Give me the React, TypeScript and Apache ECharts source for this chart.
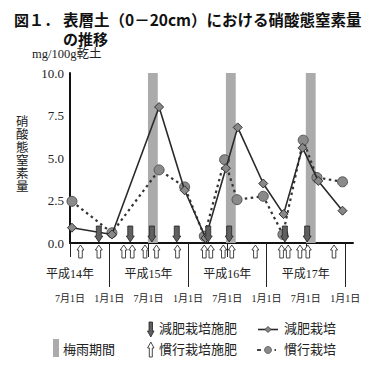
import React, { useEffect, useRef } from "react";
import * as echarts from "echarts";

// months counted from 平成14年7月1日
const genpiMonths = [0.3, 6.4, 13.6, 17.5, 20.7, 23.8, 25.6, 29.5, 32.6, 35.5, 37.9, 41.6];
const genpiValues = [0.9, 0.5, 8.0, 3.1, 0.3, 4.4, 6.8, 3.5, 1.7, 5.6, 3.65, 1.9];
const kankouMonths = [0.3, 6.4, 13.6, 17.5, 20.5, 23.6, 25.5, 29.5, 32.5, 35.6, 37.7, 41.6];
const kankouValues = [2.45, 0.6, 4.3, 3.3, 0.4, 4.9, 2.55, 2.75, 0.5, 6.05, 3.85, 3.6];

const rainyStart = [11.9, 23.8, 36.0];
const rainyEnd = [13.4, 25.3, 37.5];

const genpiFertMonths = [4.4, 9.2, 12.5, 16.3, 21.1, 24.3, 32.8, 36.2];
const kankouFertMonths = [1.6, 4.4, 8.2, 9.5, 11.45, 13.2, 16.4, 20.5, 21.5, 23.4, 24.7, 28.3, 32.3, 33.3, 35.1, 36.3, 40.3];

const dateTickMonths = [0, 6, 12, 18, 24, 30, 36, 42];
const dateLabels = ["7月1日", "1月1日", "7月1日", "1月1日", "7月1日", "1月1日", "7月1日", "1月1日"];
const yearBoundaryMonths = [6, 18, 30, 42];
const yearMidMonths = [0, 12, 24, 36];
const yearLabels = ["平成14年", "平成15年", "平成16年", "平成17年"];

const SERIF = "'Liberation Serif', 'DejaVu Serif', 'Noto Sans CJK JP', serif";
const GOTHIC = "'Noto Sans CJK JP', 'Noto Sans', sans-serif";
const TXT = "#222";

export default function App() {
  const ref = useRef<HTMLDivElement>(null);
  useEffect(() => {
    if (!ref.current) return;
    const chart = echarts.init(ref.current, undefined, { renderer: "svg" });
    const option: any = {
      animation: false,
      backgroundColor: "#fff",
      grid: { left: 70, right: 26, top: 73, bottom: 133 },
      xAxis: [
        {
          type: "value",
          min: 0,
          max: 43.2,
          axisLine: { show: true, onZero: false, lineStyle: { color: "#111", width: 2 } },
          axisTick: { show: true, customValues: yearBoundaryMonths, length: 44, lineStyle: { color: "#222", width: 1 } },
          axisLabel: {
            customValues: dateTickMonths,
            formatter: (v: number) => dateLabels[dateTickMonths.indexOf(v)] ?? "",
            margin: 50,
            fontSize: 10,
            fontFamily: SERIF,
            color: TXT,
          },
          splitLine: { show: false },
        },
        {
          type: "value",
          min: 0,
          max: 43.2,
          position: "bottom",
          axisLine: { show: false },
          axisTick: { show: true, customValues: yearMidMonths, length: 14, lineStyle: { color: "#222", width: 1 } },
          axisLabel: {
            customValues: yearMidMonths,
            formatter: (v: number) => yearLabels[yearMidMonths.indexOf(v)] ?? "",
            margin: 25,
            fontSize: 12,
            fontFamily: SERIF,
            color: TXT,
          },
          splitLine: { show: false },
        },
      ],
      yAxis: {
        type: "value",
        min: 0,
        max: 10,
        interval: 2.5,
        axisLine: { show: true, lineStyle: { color: "#111", width: 2 } },
        axisTick: { show: false },
        splitLine: { show: false },
        axisLabel: {
          formatter: (v: number) => v.toFixed(1),
          fontSize: 13,
          margin: 6,
          fontFamily: SERIF,
          color: TXT,
        },
      },
      series: [
        {
          type: "custom",
          name: "梅雨期間",
          z: 1,
          clip: false,
          data: rainyStart.map((s, i) => [s, rainyEnd[i]]),
          renderItem: (params: any, api: any) => {
            const a = api.coord([api.value(0), 10]);
            const b = api.coord([api.value(1), 0]);
            return {
              type: "rect",
              shape: { x: a[0], y: a[1], width: b[0] - a[0], height: b[1] - a[1] },
              style: { fill: "#ababab" },
            };
          },
        },
        {
          type: "line",
          name: "慣行栽培",
          z: 3,
          data: kankouMonths.map((m, i) => [m, kankouValues[i]]),
          symbol: "circle",
          symbolSize: 10,
          lineStyle: { color: "#333", width: 2.2, type: [2.5, 3.5] },
          itemStyle: { color: "#8a8a8a", borderColor: "#555", borderWidth: 1 },
        },
        {
          type: "line",
          name: "減肥栽培",
          z: 4,
          data: genpiMonths.map((m, i) => [m, genpiValues[i]]),
          symbol: "diamond",
          symbolSize: 9,
          lineStyle: { color: "#2a2a2a", width: 1.6 },
          itemStyle: { color: "#888", borderColor: "#333", borderWidth: 1 },
        },
        {
          type: "custom",
          name: "減肥栽培施肥",
          z: 5,
          clip: false,
          data: genpiFertMonths.map((m) => [m, 0]),
          renderItem: (params: any, api: any) => {
            const p = api.coord([api.value(0), 0]);
            const x = p[0];
            const y = p[1];
            return {
              type: "polygon",
              shape: {
                points: [
                  [x - 2.5, y - 17],
                  [x + 2.5, y - 17],
                  [x + 2.5, y - 7],
                  [x + 4, y - 7],
                  [x, y - 1],
                  [x - 4, y - 7],
                  [x - 2.5, y - 7],
                ],
              },
              style: { fill: "#606060", stroke: "#222", lineWidth: 0.8 },
            };
          },
        },
        {
          type: "custom",
          name: "慣行栽培施肥",
          z: 5,
          clip: false,
          data: kankouFertMonths.map((m) => [m, 0]),
          renderItem: (params: any, api: any) => {
            const p = api.coord([api.value(0), 0]);
            const x = p[0];
            const y = p[1];
            return {
              type: "polygon",
              shape: {
                points: [
                  [x, y + 2],
                  [x + 3.5, y + 7],
                  [x + 1.8, y + 7],
                  [x + 1.8, y + 15],
                  [x - 1.8, y + 15],
                  [x - 1.8, y + 7],
                  [x - 3.5, y + 7],
                ],
              },
              style: { fill: "#fff", stroke: "#333", lineWidth: 0.9 },
            };
          },
        },
      ],
      graphic: [
        {
          type: "text",
          x: 14,
          y: 19,
          style: { text: "図１．", font: `bold 15px ${GOTHIC}`, fill: "#111", verticalAlign: "middle" },
        },
        {
          type: "text",
          x: 63,
          y: 19,
          style: {
            text: "表層土（0－20cm）における硝酸態窒素量",
            font: `bold 15.5px ${GOTHIC}`,
            fill: "#111",
            verticalAlign: "middle",
          },
        },
        {
          type: "text",
          x: 63,
          y: 38.5,
          style: { text: "の推移", font: `bold 15px ${GOTHIC}`, fill: "#111", verticalAlign: "middle" },
        },
        {
          type: "text",
          x: 32,
          y: 54,
          style: { text: "mg/100g乾土", font: `12.5px ${SERIF}`, fill: TXT, verticalAlign: "middle" },
        },
        {
          type: "text",
          left: 16,
          top: 115,
          style: { text: "硝\n酸\n態\n窒\n素\n量", font: `12.5px ${SERIF}`, lineHeight: 13, fill: TXT },
        },
        // legend
        {
          type: "polygon",
          shape: {
            points: [
              [149, 322],
              [152.5, 322],
              [152.5, 331],
              [154, 331],
              [150.8, 337],
              [147.5, 331],
              [149, 331],
            ],
          },
          style: { fill: "#606060", stroke: "#222", lineWidth: 0.8 },
        },
        { type: "text", left: 159, top: 322, style: { text: "減肥栽培施肥", font: `13px ${SERIF}`, fill: TXT } },
        {
          type: "polygon",
          shape: {
            points: [
              [150.8, 342],
              [154, 348],
              [152.3, 348],
              [152.3, 357],
              [149.3, 357],
              [149.3, 348],
              [147.6, 348],
            ],
          },
          style: { fill: "#fff", stroke: "#333", lineWidth: 0.9 },
        },
        { type: "text", left: 159, top: 343, style: { text: "慣行栽培施肥", font: `13px ${SERIF}`, fill: TXT } },
        { type: "rect", shape: { x: 53, y: 339, width: 6, height: 18 }, style: { fill: "#ababab" } },
        { type: "text", left: 63, top: 343, style: { text: "梅雨期間", font: `13px ${SERIF}`, fill: TXT } },
        { type: "line", shape: { x1: 258, y1: 329.5, x2: 278, y2: 329.5 }, style: { stroke: "#2a2a2a", lineWidth: 1.6 } },
        {
          type: "polygon",
          shape: { points: [[268, 326.5], [271, 329.5], [268, 332.5], [265, 329.5]] },
          style: { fill: "#888", stroke: "#333", lineWidth: 0.8 },
        },
        { type: "text", left: 284, top: 322, style: { text: "減肥栽培", font: `13px ${SERIF}`, fill: TXT } },
        { type: "line", shape: { x1: 257, y1: 350, x2: 261, y2: 350 }, style: { stroke: "#444", lineWidth: 2 } },
        { type: "circle", shape: { cx: 268, cy: 350, r: 3.5 }, style: { fill: "#8a8a8a", stroke: "#555", lineWidth: 0.8 } },
        { type: "line", shape: { x1: 274.5, y1: 350, x2: 276, y2: 350 }, style: { stroke: "#444", lineWidth: 2 } },
        { type: "text", left: 284, top: 343, style: { text: "慣行栽培", font: `13px ${SERIF}`, fill: TXT } },
      ],
    };
    chart.setOption(option);
    return () => chart.dispose();
  }, []);
  return (
    <div
      ref={ref}
      style={{ position: "fixed", left: 0, top: 0, width: 379, height: 376, background: "#fff" }}
    />
  );
}
